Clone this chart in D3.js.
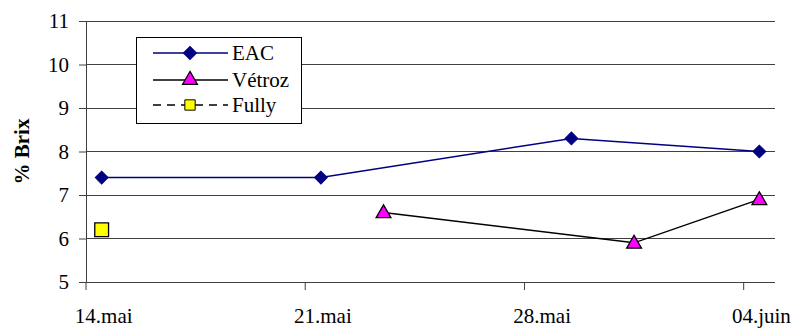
<!DOCTYPE html>
<html>
<head>
<meta charset="utf-8">
<script src="https://cdn.jsdelivr.net/npm/d3@7"></script>
<style>
  html, body { margin: 0; padding: 0; background: #fff; }
  svg { display: block; }
  svg text { fill: #000; }
</style>
</head>
<body>
<svg id="chart" width="791" height="331"></svg>
<script>
// Sampling dates (day resolution) and % Brix readings per site
const eacDates = ["2004-05-14", "2004-05-21", "2004-05-29", "2004-06-04"];
const eacValues = [7.4, 7.4, 8.3, 8.0];

const vetrozDates = ["2004-05-23", "2004-05-31", "2004-06-04"];
const vetrozValues = [6.6, 5.9, 6.9];

const fullyDates = ["2004-05-14"];
const fullyValues = [6.2];

const xTickDates = ["2004-05-14", "2004-05-21", "2004-05-28", "2004-06-04"];
const xTickLabels = ["14.mai", "21.mai", "28.mai", "04.juin"];
const yTicks = [5, 6, 7, 8, 9, 10, 11];

const seriesNames = ["EAC", "Vétroz", "Fully"];

const FONT = "'Liberation Serif', 'Times New Roman', serif";
const svg = d3.select("#chart").attr("font-family", FONT);
const M = { left: 86, right: 775, top: 21, bottom: 282 };

const parse = d3.utcParse("%Y-%m-%d");
const fmt = d3.utcFormat("%Y-%m-%d");

// One band per calendar day; points and labels sit in the middle of their day
const days = d3.utcDays(parse("2004-05-14"), parse("2004-06-05")).map(fmt);
const x = d3.scaleBand().domain(days).range([M.left, M.right]).padding(0);
const y = d3.scaleLinear().domain([5, 11]).range([M.bottom, M.top]);

const px = d => x(d) + x.bandwidth() / 2;

// Horizontal gridlines
svg.append("g").selectAll("line").data(yTicks).join("line")
  .attr("x1", M.left).attr("x2", M.right)
  .attr("y1", d => y(d)).attr("y2", d => y(d))
  .attr("stroke", "#404040").attr("stroke-width", 1)
  .attr("shape-rendering", "crispEdges");

// Y axis
const yAxis = svg.append("g").attr("transform", `translate(${M.left},0)`)
  .call(d3.axisLeft(y).tickValues(yTicks).tickSize(7).tickPadding(10).tickFormat(d3.format("d")));
yAxis.attr("font-family", FONT).attr("font-size", 21);
yAxis.select(".domain").attr("stroke", "#404040");
yAxis.selectAll(".tick line").attr("stroke", "#404040");
yAxis.selectAll("text").attr("dy", "0.33em");

// X axis: tick marks at the start of each week's day band, labels centred on the day
const xAxis = svg.append("g").attr("transform", `translate(0,${M.bottom})`)
  .call(d3.axisBottom(x).tickValues(xTickDates).tickSize(8)
    .tickFormat((d, i) => xTickLabels[i]).offset(0));
xAxis.attr("font-family", FONT).attr("font-size", 21);
xAxis.selectAll(".tick").attr("transform", d => `translate(${x(d)},0)`);
xAxis.select(".domain").attr("stroke", "#404040").attr("d", `M${M.left},0.5H${M.right}`);
xAxis.selectAll(".tick line").attr("stroke", "#404040");
xAxis.selectAll("text").attr("x", x.bandwidth() / 2 + 2).attr("y", 41).attr("dy", 0);

// Y axis title
svg.append("text")
  .attr("transform", `translate(29,${(M.top + M.bottom) / 2}) rotate(-90)`)
  .attr("text-anchor", "middle")
  .attr("font-size", 21).attr("font-weight", "bold")
  .text("% Brix");

const line = d3.line().x(d => px(d.date)).y(d => y(d.value));
const zip = (ds, vs) => ds.map((d, i) => ({ date: d, value: vs[i] }));

const eac = zip(eacDates, eacValues);
const vetroz = zip(vetrozDates, vetrozValues);
const fully = zip(fullyDates, fullyValues);

const diamond = d3.symbol().type(d3.symbolSquare).size(82);
const triangle = d3.symbol().type(d3.symbolTriangle).size(95);
const square = d3.symbol().type(d3.symbolSquare).size(190);

// Lines
svg.append("path").datum(eac).attr("d", line)
  .attr("fill", "none").attr("stroke", "#000080").attr("stroke-width", 1.5);
svg.append("path").datum(vetroz).attr("d", line)
  .attr("fill", "none").attr("stroke", "#000").attr("stroke-width", 1.5);
svg.append("path").datum(fully).attr("d", line)
  .attr("fill", "none").attr("stroke", "#000").attr("stroke-width", 1.5).attr("stroke-dasharray", "8,6");

// Markers
svg.append("g").selectAll("path").data(eac).join("path")
  .attr("d", diamond)
  .attr("transform", d => `translate(${px(d.date)},${y(d.value)}) rotate(45)`)
  .attr("fill", "#000080").attr("stroke", "#000080").attr("stroke-width", 1);
svg.append("g").selectAll("path").data(vetroz).join("path")
  .attr("d", triangle)
  .attr("transform", d => `translate(${px(d.date)},${y(d.value) + 1})`)
  .attr("fill", "#FF00FF").attr("stroke", "#000").attr("stroke-width", 1.3);
svg.append("g").selectAll("path").data(fully).join("path")
  .attr("d", square)
  .attr("transform", d => `translate(${px(d.date)},${y(d.value)})`)
  .attr("fill", "#FFFF00").attr("stroke", "#000").attr("stroke-width", 1.3);

// Legend
const lg = svg.append("g");
lg.append("rect").attr("x", 136.5).attr("y", 37.5).attr("width", 165).attr("height", 86)
  .attr("fill", "#fff").attr("stroke", "#000").attr("stroke-width", 1);
const rows = [
  { name: seriesNames[0], y: 53, stroke: "#000080", dash: null, sym: diamond, rot: 45, fill: "#000080", mstroke: "#000080" },
  { name: seriesNames[1], y: 80, stroke: "#000", dash: null, sym: triangle, rot: 0, fill: "#FF00FF", mstroke: "#000" },
  { name: seriesNames[2], y: 105, stroke: "#000", dash: "8,6", sym: square, rot: 0, fill: "#FFFF00", mstroke: "#000" }
];
rows.forEach(r => {
  lg.append("line").attr("x1", 153).attr("x2", 228).attr("y1", r.y).attr("y2", r.y)
    .attr("stroke", r.stroke).attr("stroke-width", 1.5)
    .attr("stroke-dasharray", r.dash);
  lg.append("path").attr("d", r.sym)
    .attr("transform", `translate(190,${r.y}) rotate(${r.rot})` + (r.sym === square ? " scale(0.75)" : ""))
    .attr("fill", r.fill).attr("stroke", r.mstroke).attr("stroke-width", 1.3);
  lg.append("text").attr("x", 232).attr("y", r.y).attr("dy", "0.33em")
    .attr("font-size", 21).text(r.name);
});
</script>
</body>
</html>
